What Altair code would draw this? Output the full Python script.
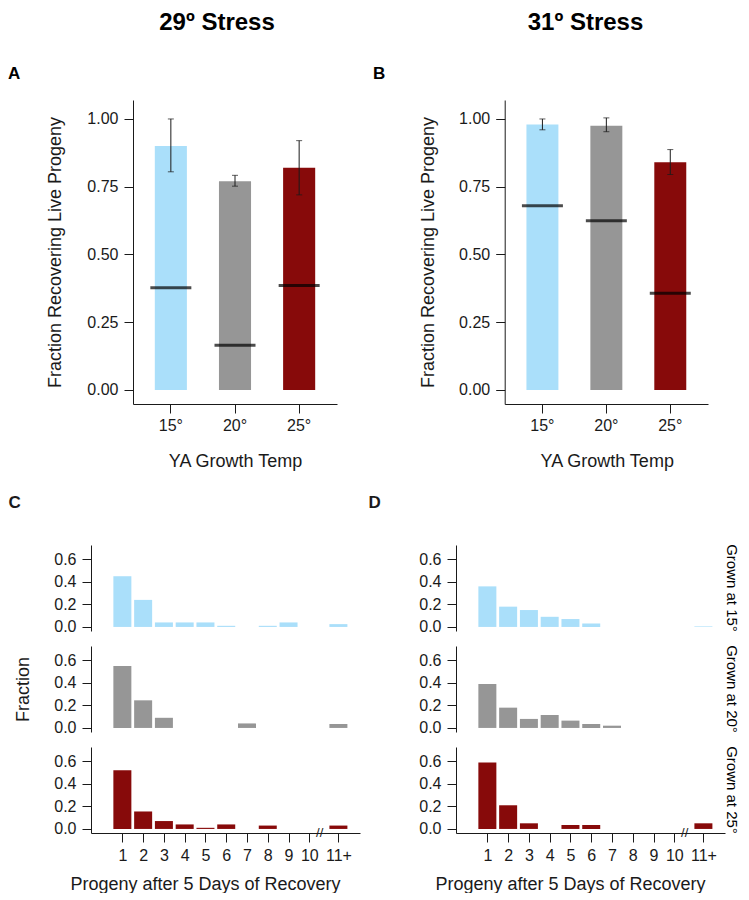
import altair as alt
import pandas as pd

FONT = "Liberation Sans"
INK = "#1a1a1a"

# ---- panel A / B data ----
temps = ["15°", "20°", "25°"]
bar_colors = ["#AADFFA", "#969696", "#870A0A"]

a_mean = [0.90, 0.77, 0.82]
a_err_lo = [0.805, 0.752, 0.72]
a_err_hi = [1.00, 0.792, 0.92]
a_median = [0.377, 0.165, 0.385]

b_mean = [0.98, 0.975, 0.84]
b_err_lo = [0.96, 0.953, 0.795]
b_err_hi = [1.00, 1.004, 0.887]
b_median = [0.68, 0.624, 0.357]

top_ticks = [0.0, 0.25, 0.5, 0.75, 1.0]

# ---- panel C / D data ----
progeny_pos = [1, 2, 3, 4, 5, 6, 7, 8, 9, 10, 11.4]
progeny_lab = ["1", "2", "3", "4", "5", "6", "7", "8", "9", "10", "11+"]
break_pos = [10.5]
hist_ticks = [0.0, 0.2, 0.4, 0.6]

c15 = [0.45, 0.24, 0.04, 0.04, 0.04, 0.01, 0.0, 0.01, 0.04, 0.0, 0.025]
c20 = [0.55, 0.245, 0.09, 0.0, 0.0, 0.0, 0.04, 0.0, 0.0, 0.0, 0.035]
c25 = [0.52, 0.155, 0.07, 0.04, 0.01, 0.04, 0.0, 0.03, 0.0, 0.0, 0.03]

d15 = [0.36, 0.18, 0.15, 0.09, 0.07, 0.03, 0.0, 0.0, 0.0, 0.0, 0.005]
d20 = [0.39, 0.18, 0.08, 0.115, 0.065, 0.035, 0.02, 0.0, 0.0, 0.0, 0.0]
d25 = [0.59, 0.21, 0.05, 0.0, 0.035, 0.035, 0.0, 0.0, 0.0, 0.0, 0.05]

grown_labels = ["Grown at 15°", "Grown at 20°", "Grown at 25°"]

TOP_H = 304
H_W, H_H = 269, 86
Y_TOP_DOMAIN = [-0.052, 1.07]
Y_HIST_DOMAIN = [-0.036, 0.727]
X_HIST_DOMAIN = [-0.51, 12.44]


def top_panel(mean, lo, hi, med, letter, axis_shift, plot_w, ytitle_x, xtitle_x):
    df = pd.DataFrame({"temp": temps, "mean": mean, "lo": lo, "hi": hi,
                       "med": med, "col": bar_colors})
    xenc = alt.X("temp:N", sort=temps,
                 scale=alt.Scale(paddingInner=0.5, paddingOuter=0.34,
                                 range=[axis_shift, plot_w]),
                 axis=alt.Axis(title="YA Growth Temp", labelAngle=0, tickSize=9,
                               labelPadding=4, labelFontSize=16, titleFontSize=18,
                               titleX=xtitle_x, titleY=62, titleAlign="center",
                               titleBaseline="alphabetic"))
    yscale = alt.Scale(domain=Y_TOP_DOMAIN, nice=False, zero=False)
    yaxis = alt.Axis(title="Fraction Recovering Live Progeny", values=top_ticks,
                     format=".2f", tickSize=9, labelPadding=6, labelFontSize=16,
                     offset=-axis_shift,
                     titleFontSize=18, titleX=ytitle_x, titleY=TOP_H / 2,
                     titleAngle=270, titleAlign="center", titleBaseline="middle")
    base = alt.Chart(df)
    bars = base.mark_bar().encode(
        x=xenc, y=alt.Y("mean:Q", scale=yscale, axis=yaxis), y2=alt.datum(0),
        color=alt.Color("col:N", scale=None))
    err = base.mark_rule(color=INK, strokeWidth=1).encode(
        x=xenc, y=alt.Y("lo:Q", scale=yscale, axis=yaxis), y2="hi:Q")
    cap_lo = base.mark_tick(color=INK, size=6, thickness=1).encode(
        x=xenc, y=alt.Y("lo:Q", scale=yscale, axis=yaxis))
    cap_hi = base.mark_tick(color=INK, size=6, thickness=1).encode(
        x=xenc, y=alt.Y("hi:Q", scale=yscale, axis=yaxis))
    med_line = base.mark_tick(color="black", size=41, thickness=3).encode(
        x=xenc, y=alt.Y("med:Q", scale=yscale, axis=yaxis))
    return alt.layer(bars, err, cap_lo, cap_hi, med_line).properties(
        width=plot_w, height=TOP_H,
        title=alt.TitleParams(letter, anchor="start", frame="group", dx=-83,
                              offset=17, fontSize=17, fontWeight="bold", color="black"))


def hist_panel(vals, color, letter=None, letter_x=None, ytitle=False,
               xaxis=False, grown=None):
    df = pd.DataFrame({"pos": progeny_pos, "frac": vals})
    df = df[df["frac"] > 0]
    xscale = alt.Scale(domain=X_HIST_DOMAIN, nice=False, zero=False, padding=0)
    if xaxis:
        label_expr = "datum.value > 11 ? '%s' : datum.label" % progeny_lab[-1]
        xax = alt.Axis(title="Progeny after 5 Days of Recovery", values=progeny_pos,
                       labelExpr=label_expr, format="d", tickSize=9, labelPadding=5,
                       labelFontSize=16, titleFontSize=18, labelOverlap=False,
                       labelFlush=False, titleX=114, titleY=56, titleAlign="center",
                       titleBaseline="alphabetic")
    else:
        xax = None
    yscale = alt.Scale(domain=Y_HIST_DOMAIN, nice=False, zero=False)
    if letter is not None:
        yax = alt.Axis(title=letter, titleX=letter_x, titleY=-38, titleAngle=0,
                       titleAlign="left", titleBaseline="alphabetic",
                       titleFontSize=17, titleFontWeight="bold", values=hist_ticks,
                       format=".1f", tickSize=9, labelPadding=6, labelFontSize=16)
    elif ytitle:
        yax = alt.Axis(title="Fraction", titleX=-68, titleY=H_H / 2, titleAngle=270,
                       titleAlign="center", titleBaseline="middle", titleFontSize=18,
                       values=hist_ticks, format=".1f", tickSize=9, labelPadding=6,
                       labelFontSize=16)
    else:
        yax = alt.Axis(title=None, values=hist_ticks, format=".1f", tickSize=9,
                       labelPadding=6, labelFontSize=16)
    bars = alt.Chart(df).mark_bar(width=18, color=color).encode(
        x=alt.X("pos:Q", scale=xscale, axis=xax),
        y=alt.Y("frac:Q", scale=yscale, axis=yax),
        y2=alt.datum(0))
    layers = [bars]
    if xaxis:
        bdf = pd.DataFrame({"pos": break_pos, "y": [Y_HIST_DOMAIN[0]]})
        brk = alt.Chart(bdf).mark_text(text="//", fontSize=13, color=INK,
                                       baseline="middle", align="center").encode(
            x=alt.X("pos:Q", scale=xscale, axis=xax),
            y=alt.Y("y:Q", scale=yscale, axis=yax))
        layers.append(brk)
    props = dict(width=H_W, height=H_H)
    if grown is not None:
        props["title"] = alt.TitleParams(grown, orient="right", anchor="middle",
                                         frame="group", offset=-1, fontSize=15,
                                         fontWeight="normal", color="black")
    return alt.layer(*layers).properties(**props)


# plot areas share their left edge with the histogram column; the bar panel's
# axis is shifted right inside it (A: 42 px, B: 48.7 px)
A = top_panel(a_mean, a_err_lo, a_err_hi, a_median, "A", 42, 246, -77.5, 144)
B = top_panel(b_mean, b_err_lo, b_err_hi, b_median, "B", 48.7, 252, -76.7, 150.7)

C = alt.vconcat(
    hist_panel(c15, bar_colors[0], letter="C", letter_x=-83),
    hist_panel(c20, bar_colors[1], ytitle=True),
    hist_panel(c25, bar_colors[2], xaxis=True),
    spacing=15, bounds="flush")

D = alt.vconcat(
    hist_panel(d15, bar_colors[0], letter="D", letter_x=-88, grown=grown_labels[0]),
    hist_panel(d20, bar_colors[1], grown=grown_labels[1]),
    hist_panel(d25, bar_colors[2], xaxis=True, grown=grown_labels[2]),
    spacing=15, bounds="flush")

left = alt.vconcat(A, C, spacing=23,
                   title=alt.TitleParams("29º Stress", anchor="middle", frame="bounds",
                                         dx=33, offset=30, fontSize=24,
                                         fontWeight="bold", color="black"))
right = alt.vconcat(B, D, spacing=23,
                    title=alt.TitleParams("31º Stress", anchor="middle", frame="bounds",
                                          dx=32, offset=30, fontSize=24,
                                          fontWeight="bold", color="black"))

chart = alt.hconcat(left, right, spacing=8).properties(
    padding={"left": 0, "top": 3, "right": 1, "bottom": 0}).configure(
    font=FONT).configure_view(stroke=None).configure_axis(
    labelFont=FONT, titleFont=FONT, domainColor=INK, tickColor=INK,
    labelColor=INK, titleColor=INK, grid=False, titleFontWeight="normal",
    domainWidth=1, tickWidth=1).configure_title(font=FONT)

chart.save("out.html", embed_options={"renderer": "svg", "actions": False})
